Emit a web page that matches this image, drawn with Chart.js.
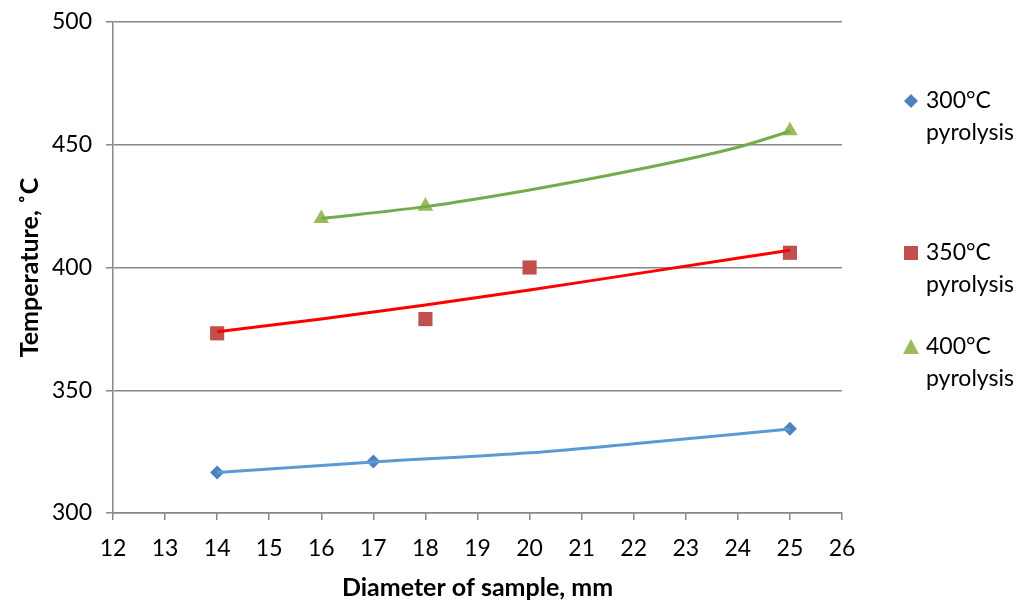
<!DOCTYPE html>
<html>
<head>
<meta charset="utf-8">
<script src="https://cdn.jsdelivr.net/npm/chart.js@4"></script>
<style>
  html, body { margin: 0; padding: 0; background: #fff; }
  canvas { display: block; }
</style>
</head>
<body>
<canvas id="chart" width="1026" height="606"></canvas>
<script>
// measured points
const x300 = [14, 17, 25];
const y300 = [316.5, 321, 334.3];
const x350 = [14, 18, 20, 25];
const y350 = [373.2, 379, 400, 406];
const x400 = [16, 18, 25];
const y400 = [420, 425, 455.7];

// trend lines
const trendX300 = [14, 17, 20, 22, 25];
const trendY300 = [316.5, 320.8, 324.5, 328.2, 334.2];
const trendX350 = [14, 16, 18, 20, 22, 25];
const trendY350 = [373.8, 379, 384.7, 390.8, 397.3, 407];
const trendX400 = [16, 18, 20, 22, 24, 25];
const trendY400 = [420, 424.8, 431.6, 439.6, 449, 455.5];

const seriesLabels = ['300°C pyrolysis', '350°C pyrolysis', '400°C pyrolysis'];
const xTitle = 'Diameter of sample, mm';
const yTitle = 'Temperature, ˚C';

const FONT = 'Lato, "Open Sans", sans-serif';
const GRID = '#878787';

const pts = (xs, ys) => xs.map((x, i) => ({ x: x, y: ys[i] }));

function trend(xs, ys, color) {
    return {
        label: '',
        data: pts(xs, ys),
        showLine: true,
        borderColor: color,
        borderWidth: 3,
        pointRadius: 0,
        pointHoverRadius: 0,
        cubicInterpolationMode: 'monotone',
        fill: false,
        order: 0
    };
}

function markers(label, xs, ys, color, style, r) {
    return {
        label: label,
        data: pts(xs, ys),
        showLine: false,
        backgroundColor: color,
        borderColor: color,
        borderWidth: 0,
        pointStyle: style,
        pointRadius: r,
        pointHoverRadius: r,
        order: 1
    };
}

// legend drawn by hand so the labels can wrap on two lines
const sideLegend = {
    id: 'sideLegend',
    afterDraw(chart) {
        const ctx = chart.ctx;
        const x0 = chart.chartArea.right + 69;
        const rows = [101, 253, 347];
        const items = chart.data.datasets.filter(d => d.label);
        ctx.save();
        items.forEach((d, i) => {
            const y = rows[i];
            ctx.fillStyle = d.backgroundColor;
            ctx.beginPath();
            if (d.pointStyle === 'rectRot') {
                ctx.moveTo(x0, y - 7); ctx.lineTo(x0 + 7, y); ctx.lineTo(x0, y + 7); ctx.lineTo(x0 - 7, y);
            } else if (d.pointStyle === 'rect') {
                ctx.rect(x0 - 7, y - 7, 14, 14);
            } else {
                ctx.moveTo(x0, y - 8); ctx.lineTo(x0 + 8, y + 7); ctx.lineTo(x0 - 8, y + 7);
            }
            ctx.closePath();
            ctx.fill();
            ctx.fillStyle = '#000';
            ctx.font = '23px ' + FONT;
            ctx.textBaseline = 'middle';
            ctx.textAlign = 'left';
            const parts = d.label.split(' ');
            ctx.fillText(parts[0], x0 + 15, y);
            ctx.fillText(parts[1], x0 + 15, y + 32);
        });
        ctx.restore();
    }
};

new Chart(document.getElementById('chart'), {
    type: 'scatter',
    data: {
        datasets: [
            markers(seriesLabels[0], x300, y300, '#4F81BD', 'rectRot', 7),
            markers(seriesLabels[1], x350, y350, '#C0504D', 'rect', 10),
            markers(seriesLabels[2], x400, y400, '#9BBB59', 'triangle', 9),
            trend(trendX300, trendY300, '#5B9BD5'),
            trend(trendX350, trendY350, '#FF0000'),
            trend(trendX400, trendY400, '#72AC4D')
        ]
    },
    options: {
        responsive: false,
        animation: false,
        layout: { padding: { left: 0, right: 184, top: 22, bottom: 0 } },
        plugins: {
            legend: { display: false },
            tooltip: { enabled: false }
        },
        scales: {
            x: {
                type: 'linear',
                min: 12,
                max: 26,
                ticks: { stepSize: 1, color: '#000', padding: 15, font: { family: FONT, size: 23 } },
                grid: { drawOnChartArea: false, drawTicks: true, tickLength: 7, color: GRID, lineWidth: 1.5 },
                border: { color: GRID, width: 1.5 },
                title: {
                    display: true,
                    text: xTitle,
                    color: '#000',
                    font: { family: FONT, size: 25, weight: 'bold' },
                    padding: { top: 0, bottom: 3 }
                },
                afterFit: s => { s.height = 93; s.paddingLeft = 0; s.paddingRight = 0; }
            },
            y: {
                min: 300,
                max: 500,
                ticks: { stepSize: 50, color: '#000', padding: 14, font: { family: FONT, size: 23 } },
                grid: { color: GRID, lineWidth: 1.5, tickLength: 7 },
                border: { color: GRID, width: 1.5 },
                title: {
                    display: true,
                    text: yTitle,
                    color: '#000',
                    font: { family: FONT, size: 25, weight: 'bold' },
                    padding: { top: 15, bottom: 0 }
                },
                afterFit: s => { s.width = 113; s.paddingTop = 0; s.paddingBottom = 0; }
            }
        }
    },
    plugins: [sideLegend]
});
</script>
</body>
</html>
